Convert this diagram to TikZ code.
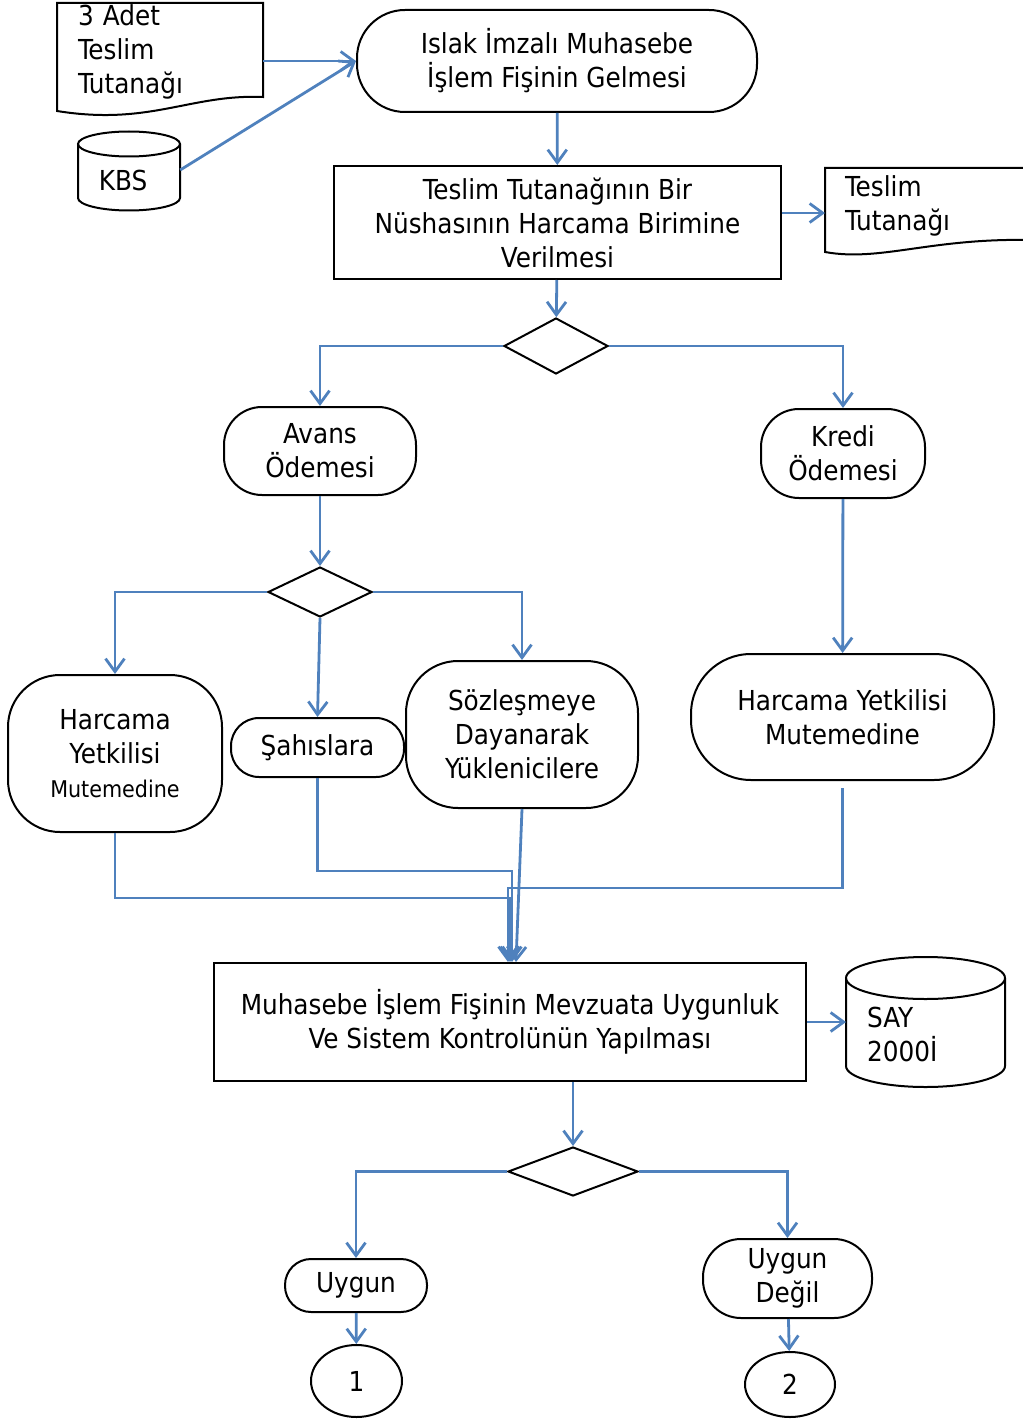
\documentclass[tikz,border=0pt]{standalone}
\usepackage{fontspec}
\setmainfont{DejaVu Sans Condensed}
\usetikzlibrary{arrows.meta,shapes.geometric,calc}
\definecolor{akis}{RGB}{79,129,189}

\begin{document}
\begin{tikzpicture}[x=1pt,y=1pt,
	font=\fontsize{27.5}{34}\selectfont,
	kutu/.style={draw,line width=2pt,align=center,inner sep=0pt},
	yuvar/.style={kutu,rounded corners=#1},
	karar/.style={draw,line width=2pt,diamond,inner sep=0pt},
	belge/.style={align=left,inner ysep=0pt},
	ok/.style={draw=akis,line width=2.8pt,-{Straight Barb[length=13pt,width=19pt,line width=2.8pt]}}]
	\useasboundingbox (0,0) rectangle (1022,-1420);
	
	% belgeler ve veri tabanlari
	\node[belge,inner xsep=21pt,text width=164,minimum height=100] (tut3) at (160,-52) {3 Adet\\Teslim\\Tutanağı};
	\draw[line width=2pt](57,-3)--(263,-3)--(263,-97) .. controls (190,-94) and (150,-126) .. (57,-111)--cycle;
	
	\draw[line width=2pt](78,-144)--(78,-198) arc (180:360:51 and 12.5)--(180,-144);
	\draw[line width=2pt](129,-144) ellipse (51 and 12.5);
	\node[inner sep=0pt,minimum width=114,minimum height=60] (kbs) at (123,-180) {KBS};
	
	\node[belge,inner xsep=0pt,text width=170,anchor=west] (tt) at (845,-206) {Teslim\\Tutanağı};
	\draw[line width=2pt](1030,-168)--(825,-168)--(825,-252) .. controls (880,-262) and (930,-238) .. (1030,-240);
	
	\draw[line width=2pt](846,-978)--(846,-1066) arc (180:360:79.5 and 21)--(1005,-978);
	\draw[line width=2pt](925.5,-978) ellipse (79.5 and 21);
	\node[belge,inner xsep=0pt,text width=130,anchor=west] (say) at (867,-1034) {SAY\\2000İ};
	
	% surec adimlari
	\node[yuvar=48,minimum width=400,minimum height=102] (islak) at (557,-61) {Islak İmzalı Muhasebe\\İşlem Fişinin Gelmesi};
	\node[kutu,minimum width=447,minimum height=113] (nus) at (557.5,-222.5) {Teslim Tutanağının Bir\\Nüshasının Harcama Birimine\\Verilmesi};
	\node[karar,minimum width=104,minimum height=56] (k1) at (556,-346) {};
	
	\node[yuvar=38,minimum width=192,minimum height=88] (avans) at (320,-451) {Avans\\Ödemesi};
	\node[yuvar=38,minimum width=164,minimum height=89] (kredi) at (843,-453.5) {Kredi\\Ödemesi};
	\node[karar,minimum width=104,minimum height=50] (k2) at (320,-592) {};
	
	\node[yuvar=52,minimum width=214,minimum height=157] (hym1) at (115,-753.5) {Harcama\\Yetkilisi\\{\fontsize{23}{30}\selectfont Mutemedine}};
	\node[yuvar=28,minimum width=173,minimum height=59] (sah) at (317.5,-747.5) {Şahıslara};
	\node[yuvar=52,minimum width=232,minimum height=147] (soz) at (522,-734.5) {Sözleşmeye\\Dayanarak\\Yüklenicilere};
	\node[yuvar=60,minimum width=303,minimum height=126] (hym2) at (842.5,-717) {Harcama Yetkilisi\\Mutemedine};
	
	\node[kutu,minimum width=592,minimum height=118] (mhs) at (510,-1022) {Muhasebe İşlem Fişinin Mevzuata Uygunluk\\Ve Sistem Kontrolünün Yapılması};
	\node[karar,minimum width=130,minimum height=49] (k3) at (573,-1171.5) {};
	
	\node[yuvar=26,minimum width=142,minimum height=53] (uygun) at (356,-1285.5) {Uygun};
	\node[yuvar=38,minimum width=169,minimum height=79] (degil) at (787.5,-1278.5) {Uygun\\Değil};
	\node[draw,line width=2pt,ellipse,inner sep=0pt,minimum width=91,minimum height=72] (c1) at (356.5,-1381) {1};
	\node[draw,line width=2pt,ellipse,inner sep=0pt,minimum width=90,minimum height=65] (c2) at (790,-1384.5) {2};
	
	% oklar
	\draw[ok](tut3.east |- islak.west)--(islak.west);
	\draw[ok]($(kbs.east)+(0,10)$)--(islak.west);
	\draw[ok](islak)--(nus);
	\draw[ok](nus.east |- 0,-213)--(825,-213);
	\draw[ok](nus)--(k1);
	\draw[ok](k1.west)-|(avans.north);
	\draw[ok](k1.east)-|(kredi.north);
	\draw[ok](avans)--(k2);
	\draw[ok](k2.west)-|(hym1.north);
	\draw[ok](k2.east)-|(soz.north);
	\draw[ok](k2.south)--(sah.north);
	\draw[ok](kredi)--(hym2);
	
	\draw[ok](hym1.south)--++(0,-65)-|(mhs.north);
	\draw[ok](sah.south)--++(0,-93)-|([xshift=2pt]mhs.north);
	\draw[ok](soz.south)--([xshift=6pt]mhs.north);
	\draw[ok]([yshift=-7pt]hym2.south)--++(0,-100)-|([xshift=-2pt]mhs.north);
	
	\draw[ok](mhs.east)--(mhs.east -| 846,0);
	\draw[ok](mhs.south -| k3.north)--(k3.north);
	\draw[ok](k3.west)-|(uygun.north);
	\draw[ok](k3.east)-|(degil.north);
	\draw[ok](uygun)--(c1);
	\draw[ok](degil)--(c2);
	
\end{tikzpicture}
\end{document}
